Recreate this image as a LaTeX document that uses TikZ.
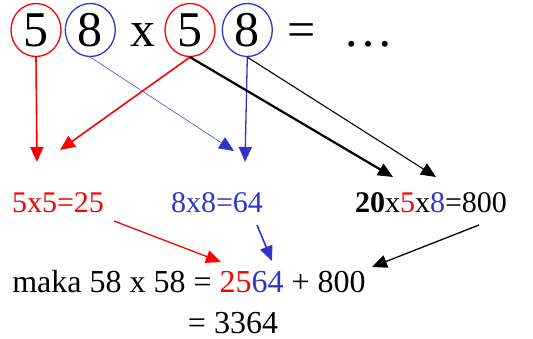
\documentclass[tikz,border=0pt]{standalone}
\usepackage{fontspec}
\setmainfont{Liberation Serif}
\usepackage{xcolor}
\definecolor{digitred}{HTML}{FF0000}
\definecolor{digitblue}{HTML}{3333CC}
\usetikzlibrary{positioning,shapes.geometric,arrows.meta}

\begin{document}
\begin{tikzpicture}[
        x=1pt, y=-1pt,
        digit/.style={ellipse, draw, line width=1.3pt, minimum width=50pt, minimum height=53pt, inner sep=0pt, font=\fontsize{50}{50}\selectfont},
        big/.style={anchor=base, inner sep=0pt, font=\fontsize{50}{50}\selectfont},
        part/.style={anchor=base, inner sep=0pt, font=\fontsize{30}{30}\selectfont},
        result/.style={anchor=base, inner sep=0pt, font=\fontsize{32}{32}\selectfont},
        arr/.style={-{Triangle[length=15pt, width=13pt]}},
    ]
    \useasboundingbox (0,0) rectangle (533,339);

    % === Row 1: 58 x 58 ===
    \node[digit, draw=digitred] (tensA) at (36,30) {5};
    \node[digit, draw=digitblue, right=3pt of tensA] (onesA) {8};
    \node[big] (times) at (143,47) {x};
    \node[digit, draw=digitred] (tensB) at (190,30) {5};
    \node[digit, draw=digitblue, right=6pt of tensB] (onesB) {8};
    \node[big] (equals) at (302,47) {=};
    \node[big] (dots) at (368,47) {\dots};

    % === Row 2: partial products ===
    \node[part, text=digitred] (square5) at (58,213) {5x5=25};
    \node[part, text=digitblue] (square8) at (217,213) {8x8=64};
    \node[part] (cross) at (431,213) {\textbf{20}x\textcolor{digitred}{5}x\textcolor{digitblue}{8}=800};

    % === Row 3: result ===
    \node[result] (total) at (189,292) {maka 58 x 58 = \textcolor{digitred}{25}\textcolor{digitblue}{64} + 800};
    \node[result] (answer) at (233,333) {= 3364};

    % free ends of the arrows
    \coordinate (tipA) at (37,162);
    \coordinate (tipB) at (60,150);
    \coordinate (tipC) at (234,151);
    \coordinate (tipD) at (245,162);
    \coordinate (tipE) at (393,177);
    \coordinate (tipF) at (436,177);
    \coordinate (startG) at (114,221);
    \coordinate (tipG) at (221,262);
    \coordinate (startH) at (257,225);
    \coordinate (tipH) at (272,261);
    \coordinate (startI) at (479,225);
    \coordinate (tipI) at (372,267);

    \draw[arr, digitred, line width=1.6pt] (tensA.south) -- (tipA);
    \draw[arr, digitred, line width=1.6pt] (tensB.south) -- (tipB);
    \draw[arr, digitblue, line width=0.5pt] (onesA.south) -- (tipC);
    \draw[arr, digitblue, line width=1.3pt] (onesB.south) -- (tipD);
    \draw[arr, line width=2.2pt] (tensB.south) -- (tipE);
    \draw[arr, line width=1.1pt] (onesB.south) -- (tipF);

    \draw[arr, digitred, line width=1.3pt] (startG) -- (tipG);
    \draw[arr, digitblue, line width=1.6pt] (startH) -- (tipH);
    \draw[arr, line width=1.3pt] (startI) -- (tipI);

\end{tikzpicture}
\end{document}
